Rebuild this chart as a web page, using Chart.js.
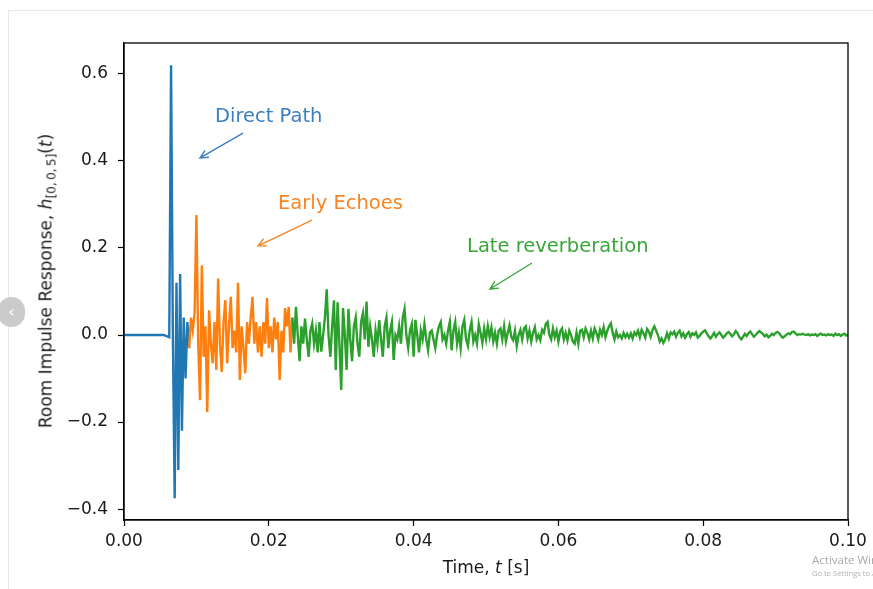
<!DOCTYPE html>
<html>
<head>
<meta charset="utf-8">
<script src="https://cdn.jsdelivr.net/npm/chart.js@4"></script>
<style>
html,body{margin:0;padding:0;background:#fff;}
body{width:873px;height:589px;position:relative;overflow:hidden;font-family:"DejaVu Sans";}
#wrap{position:absolute;left:0;top:0;}
.frameTop{position:absolute;left:8px;top:10px;width:865px;height:1px;background:#e6e6e6;}
.frameLeft{position:absolute;left:8px;top:10px;width:1px;height:579px;background:#e6e6e6;}
.nav{position:absolute;left:-2px;top:297px;width:27px;height:30px;border-radius:15px;background:#cbcbcb;color:#fff;font-size:16px;line-height:30px;text-align:center;}
.ytitle{position:absolute;left:47px;top:281px;transform:translate(-50%,-50%) rotate(-90deg);white-space:nowrap;font-size:17px;color:#1a1a1a;}
.xtitle{position:absolute;left:486px;top:567px;transform:translate(-50%,-50%);white-space:nowrap;font-size:17px;color:#1a1a1a;}
.ytitle sub{font-size:12px;vertical-align:-4px;}
.wm1{position:absolute;left:812px;top:552px;font-size:11.5px;color:#a8a8a8;white-space:nowrap;font-family:"Open Sans";}
.wm2{position:absolute;left:812px;top:568px;font-size:7.5px;color:#b0b0b0;white-space:nowrap;font-family:"Open Sans";}
</style>
</head>
<body>
<div class="frameTop"></div>
<div class="frameLeft"></div>
<div id="wrap"><canvas id="rir" width="873" height="589"></canvas></div>
<div class="ytitle">Room Impulse Response, <i>h</i><sub>[0,&#8201;0,&#8201;5]</sub>(<i>t</i>)</div>
<div class="xtitle">Time, <i>t</i> [s]</div>
<div class="nav">&#8249;</div>
<div class="wm1">Activate Windows</div>
<div class="wm2">Go to Settings to activate Windows.</div>
<script>

// sampling step of the impulse response [s]
const dt = 0.00025

// direct path (samples 0..36)
const blueStart = 0
const blueVals = [
0,0,0,0,0,0,0,0,0,0,
0,0,0,0,0,0,0,0,0,0,
0,0,0,-0.002,-0.003,-0.005,0.62,0.0,-0.375,0.12,
-0.31,0.14,-0.22,0.04,-0.10,0.03,-0.03
]

// early echoes (samples 36..93)
const orangeStart = 36
const orangeVals = [
-0.03,0.04,0.01,0.05,0.276,-0.02,-0.15,0.16,-0.05,0.02,
-0.177,0.057,-0.02,-0.065,0.03,-0.08,0.13,-0.02,-0.085,0.03,
0.08,-0.065,0.02,0.088,-0.03,0.01,-0.04,0.12,-0.103,0.02,
-0.03,-0.088,0.03,-0.02,0.04,0.088,-0.02,0.03,-0.04,0.02,
-0.05,0.03,-0.02,0.085,-0.03,0.02,-0.04,0.04,-0.01,0.03,
-0.103,0.01,-0.04,0.062,0.02,0.065,-0.04,0.04
]

// late reverberation (samples 93..400)
const greenStart = 93
const greenVals = [
0.04,-0.02,0.065,0.0,-0.06,0.02,-0.02,0.038,
-0.01,-0.05,0.01,0.027,-0.02,0.01,-0.04,0.03,-0.038,0.0,
0.04,0.105,0.0,-0.05,0.02,0.08,-0.08,0.075,-0.02,-0.126,
0.062,0.0,-0.08,0.06,-0.01,-0.06,0.02,0.04,-0.02,-0.05,
0.03,0.05,-0.01,0.077,-0.027,0.02,-0.01,-0.05,0.01,-0.02,
0.034,-0.01,-0.05,0.02,0.04,-0.03,0.01,0.03,-0.057,0.0,
-0.01,0.02,-0.02,0.04,0.06,0.0,-0.03,0.01,0.025,-0.05,
0.035,0.0,-0.04,0.01,-0.01,0.025,-0.01,-0.035,0.005,0.01,
-0.01,-0.03,0.0,0.02,0.03,-0.01,0.0,-0.02,0.01,0.03,
-0.035,0.01,0.03,-0.02,0.005,-0.03,0.02,0.035,-0.01,-0.025,
0.01,0.03,-0.015,0.0,-0.02,0.025,0.005,-0.018,0.015,-0.01,
0.02,-0.005,0.017,-0.015,0.005,-0.02,0.01,0.015,-0.01,0.02,
-0.015,0.005,0.022,-0.005,-0.012,0.01,-0.025,0.0,0.012,-0.01,
0.015,0.02,-0.008,0.01,-0.015,0.005,0.018,-0.01,0.0,-0.012,
0.012,0.005,0.025,0.03,0.0,-0.01,0.015,-0.005,0.01,-0.015,
0.008,0.015,-0.01,0.005,-0.012,0.01,0.0,-0.015,-0.02,0.005,
-0.02,0.01,0.012,-0.005,0.015,0.005,-0.01,0.01,-0.008,0.015,
0.005,-0.01,0.012,0.0,0.018,-0.005,0.01,0.02,0.027,0.005,
-0.01,0.008,-0.005,0.0,-0.008,0.005,-0.005,0.003,-0.006,0.004,
-0.008,0.006,0.0,0.01,-0.005,0.012,0.004,-0.006,0.014,0.008,
-0.004,0.012,0.02,0.01,0.0,-0.015,-0.008,-0.018,-0.01,0.004,
-0.008,0.006,0.002,0.008,-0.004,0.005,0.01,-0.003,0.004,-0.006,
0.002,0.007,-0.004,0.004,0.0,0.006,-0.006,-0.002,0.004,0.008,
0.011,0.004,-0.003,-0.008,-0.002,0.005,-0.004,0.002,0.006,0.0,
-0.006,-0.002,0.004,0.007,0.003,-0.003,0.002,0.009,0.004,-0.005,
-0.01,-0.004,0.003,-0.002,0.004,0.008,0.002,-0.004,0.0,0.005,
0.009,0.006,0.002,-0.003,0.001,-0.005,-0.002,0.003,0.0,0.005,
0.007,0.004,-0.002,-0.006,-0.003,0.001,0.004,0.002,0.007,0.008,
0.004,0.0,0.002,0.001,0.003,0.001,0.0,0.002,-0.001,0.001,
0.0,0.002,-0.002,0.001,0.003,0.0,0.001,-0.001,0.002,0.0,
0.001,-0.002,0.003,0.0,0.002,-0.002,0.001,0.003,-0.001,0.001
]

const xTicks = [0, 0.02, 0.04, 0.06, 0.08, 0.10]
const yTicks = [-0.4, -0.2, 0.0, 0.2, 0.4, 0.6]

const cBlue = "#1f77b4"
const cOrange = "#ff7f0e"
const cGreen = "#2ca02c"

// text labels with arrows, in data units
const notes = [
{text:"Direct Path", color:"#3a7fc0", at:[0.01257, 0.501], from:[0.01644, 0.464], to:[0.0105, 0.407]},
{text:"Early Echoes", color:"#f98424", at:[0.02127, 0.301], from:[0.02597, 0.264], to:[0.01851, 0.205]},
{text:"Late reverberation", color:"#3aa63a", at:[0.04738, 0.202], from:[0.05635, 0.1655], to:[0.05055, 0.1057]}
]

function toPoints(start, vals) {
return vals.map((v, i) => ({x: (start + i) * dt, y: v}))
}

const boxAndNotes = {
id: "boxAndNotes",
afterDraw(chart) {
const {ctx, chartArea: a, scales: {x, y}} = chart
ctx.save()
ctx.strokeStyle = "#000"
ctx.lineWidth = 1.3
ctx.strokeRect(a.left, a.top, a.right - a.left, a.bottom - a.top)

ctx.font = '19.5px "DejaVu Sans"'
ctx.textBaseline = "middle"
notes.forEach(n => {
ctx.fillStyle = n.color
ctx.strokeStyle = n.color
ctx.lineWidth = 1.4
ctx.fillText(n.text, x.getPixelForValue(n.at[0]), y.getPixelForValue(n.at[1]))
const x0 = x.getPixelForValue(n.from[0]), y0 = y.getPixelForValue(n.from[1])
const x1 = x.getPixelForValue(n.to[0]), y1 = y.getPixelForValue(n.to[1])
const ang = Math.atan2(y1 - y0, x1 - x0)
ctx.beginPath()
ctx.moveTo(x0, y0)
ctx.lineTo(x1, y1)
ctx.moveTo(x1 - 9 * Math.cos(ang - 0.45), y1 - 9 * Math.sin(ang - 0.45))
ctx.lineTo(x1, y1)
ctx.lineTo(x1 - 9 * Math.cos(ang + 0.45), y1 - 9 * Math.sin(ang + 0.45))
ctx.stroke()
})
ctx.restore()
}
}

const tickFont = {family: "DejaVu Sans", size: 17}

new Chart(document.getElementById("rir"), {
type: "line",
data: {
datasets: [
{data: toPoints(blueStart, blueVals), borderColor: cBlue, order: 2},
{data: toPoints(orangeStart, orangeVals), borderColor: cOrange, order: 1},
{data: toPoints(greenStart, greenVals), borderColor: cGreen, order: 0}
]
},
options: {
responsive: false,
animation: false,
devicePixelRatio: 1,
layout: {padding: {left: 0, top: 43, right: 25, bottom: 0}},
elements: {
line: {borderWidth: 2.4, tension: 0},
point: {radius: 0}
},
plugins: {legend: {display: false}, tooltip: {enabled: false}},
scales: {
x: {
type: "linear", min: 0, max: 0.1,
afterFit(s) { s.height = 69 },
afterBuildTicks(s) { s.ticks = xTicks.map(v => ({value: v})) },
grid: {drawOnChartArea: false, tickLength: 6, tickColor: "#000", tickWidth: 1.2},
border: {color: "#000", width: 1.3},
ticks: {color: "#1a1a1a", font: tickFont, padding: 5, maxRotation: 0, autoSkip: false,
callback: v => v.toFixed(2)}
},
y: {
type: "linear", min: -0.425, max: 0.671,
afterFit(s) { s.width = 124 },
afterBuildTicks(s) { s.ticks = yTicks.map(v => ({value: v})) },
grid: {drawOnChartArea: false, tickLength: 6, tickColor: "#000", tickWidth: 1.2},
border: {color: "#000", width: 1.3},
ticks: {color: "#1a1a1a", font: tickFont, padding: 10, autoSkip: false,
callback: v => (v < -1e-9 ? "\u2212" : "") + Math.abs(v).toFixed(1)}
}
}
},
plugins: [boxAndNotes]
})

</script>
</body>
</html>
